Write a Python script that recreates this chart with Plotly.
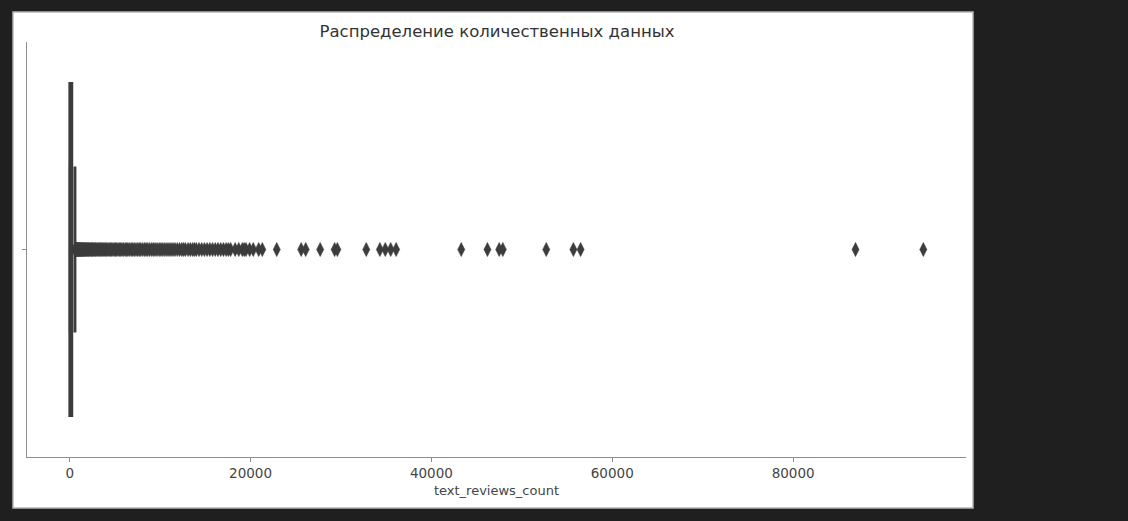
import plotly.graph_objects as go

# Summary statistics of text_reviews_count
feature = "text_reviews_count"
q1 = [9]
median = [47]
q3 = [238]
lower_fence = [0]
upper_fence = [590]

# Values beyond the upper whisker
outliers = [
    600, 615, 640, 665, 690, 720, 745, 780, 810, 845, 870, 910, 950, 990,
    1030, 1070, 1110, 1150, 1190, 1240, 1300, 1340, 1390, 1450, 1520, 1560,
    1610, 1690, 1770, 1820, 1880, 1970, 2060, 2120, 2190, 2300, 2400, 2470,
    2540, 2650, 2760, 2840, 2930, 3050, 3170, 3280, 3390, 3490, 3600, 3740,
    3870, 3980, 4090, 4230, 4370, 4490, 4620, 4780, 4930, 5050, 5180, 5350,
    5520, 5650, 5790, 5970, 6150, 6300, 6440, 6630, 6820, 6970, 7130, 7330,
    7530, 7690, 7860, 8070, 8280, 8450, 8630, 8850, 9070, 9250, 9440, 9660,
    9890, 10100, 10300, 10530, 10760, 10980, 11200, 11420, 11650, 11900,
    12150, 12400, 12600, 12800, 13100, 13350, 13600, 13800, 14000, 14300,
    14600, 14900, 15200, 15500, 15800, 16100, 16400, 16700, 17000, 17300,
    17550, 17800, 18300, 18700, 19100, 19300, 19500, 19900, 20300, 20900,
    21300, 22900, 25600, 26100, 27700, 29300, 29600, 32800, 34300, 34900,
    35500, 36100, 43300, 46200, 47500, 47900, 52700, 55700, 56500, 86900,
    94400,
]

x_ticks = [0, 20000, 40000, 60000, 80000]
x_range = [-4720, 99120]

title_text = "Распределение количественных данных"

W, H = 1128, 521
left, right, top, bottom = 27, 162, 42, 64
pw, ph = W - left - right, H - top - bottom

dark = "#3c3c3c"
spine = "#8e8e8e"
font_family = "DejaVu Sans"

fig = go.Figure()

fig.add_trace(go.Box(
    orientation="h",
    y=[0],
    q1=q1, median=median, q3=q3,
    lowerfence=lower_fence, upperfence=upper_fence,
    width=0.8,
    whiskerwidth=0.5,
    line=dict(color=dark, width=2.8),
    fillcolor=dark,
    boxpoints=False,
    hoverinfo="skip",
    showlegend=False,
))

fig.add_trace(go.Scatter(
    x=outliers,
    y=[0] * len(outliers),
    mode="markers",
    marker=dict(symbol="diamond-tall", size=10, color=dark,
                line=dict(width=0.6, color=dark)),
    showlegend=False,
    hoverinfo="x",
))

# White canvas of the figure on the dark page
fig.add_shape(
    type="rect", xref="paper", yref="paper", layer="below",
    x0=(13 - left) / pw, x1=(973 - left) / pw,
    y0=(H - bottom - 508) / ph, y1=(H - bottom - 12) / ph,
    fillcolor="white", line=dict(color="#b5b5b5", width=1.5),
)

fig.update_layout(
    width=W, height=H,
    margin=dict(l=left, r=right, t=top, b=bottom),
    paper_bgcolor="#1f1f1f",
    plot_bgcolor="white",
    font=dict(family=font_family, size=13.5, color="#444444"),
    title=dict(
        text=title_text,
        x=(497 - left) / pw, xref="paper", xanchor="center",
        y=1 - 31 / H, yref="container", yanchor="middle",
        font=dict(size=16.5, color="#333333", family=font_family),
    ),
    xaxis=dict(
        range=x_range,
        tickvals=x_ticks,
        ticktext=[str(v) for v in x_ticks],
        showgrid=False, zeroline=False,
        showline=True, linecolor=spine, linewidth=1.3,
        ticks="outside", ticklen=4, tickcolor=spine, tickwidth=1.2,
        title=dict(text=feature, standoff=5,
                   font=dict(size=13, color="#444444")),
    ),
    yaxis=dict(
        range=[-0.5, 0.5],
        tickvals=[0], ticktext=[""],
        showgrid=False, zeroline=False,
        showline=True, linecolor=spine, linewidth=1.3,
        ticks="outside", ticklen=4, tickcolor=spine, tickwidth=1.2,
    ),
)

fig.write_html("out.html")
